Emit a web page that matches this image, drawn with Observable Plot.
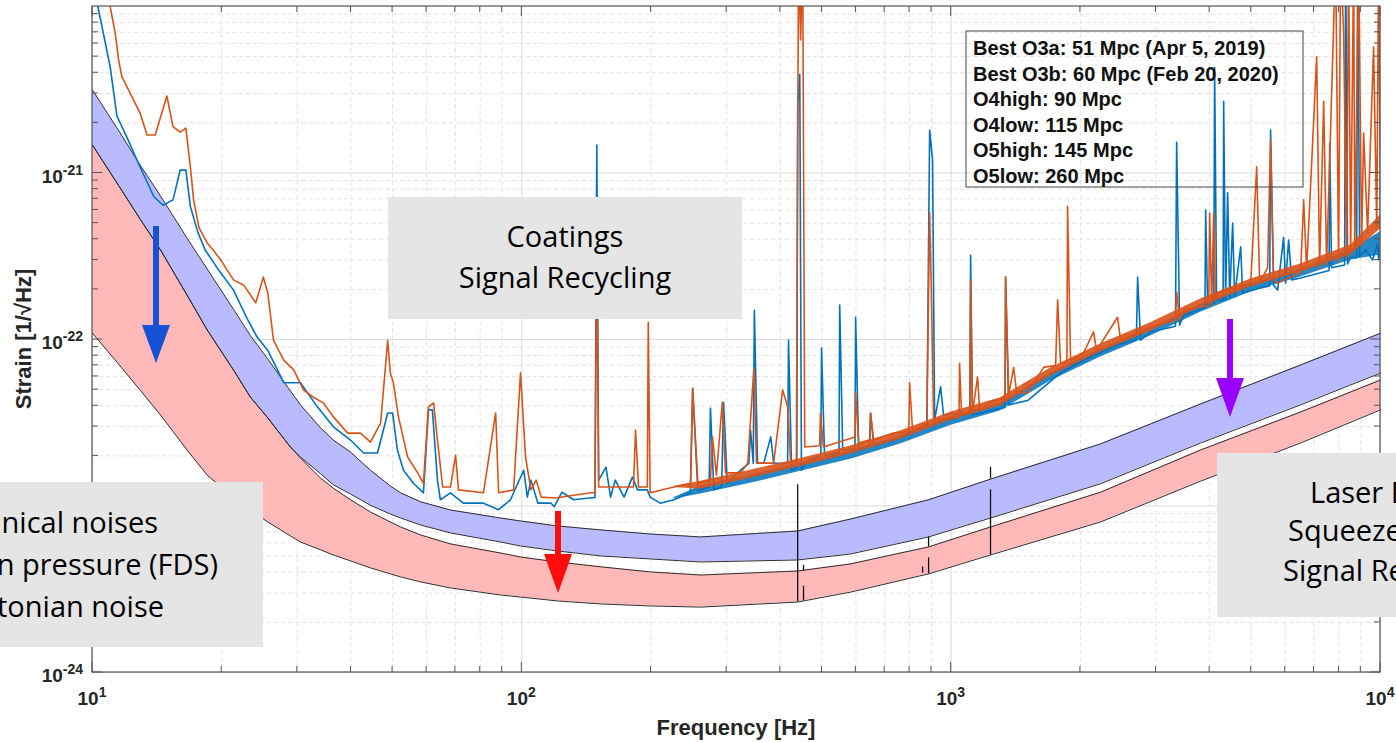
<!DOCTYPE html>
<html><head><meta charset="utf-8">
<script src="https://cdn.jsdelivr.net/npm/d3@7"></script>
<script src="https://cdn.jsdelivr.net/npm/@observablehq/plot@0.6"></script>
<style>
html,body{margin:0;padding:0;background:#fff;overflow:hidden}
#chart svg{display:block}
</style></head><body><div id="chart"></div>
<script>
// ---------- DATA ----------
// design bands (frequency in Hz, strain in 1/sqrt(Hz))
const bandFreq = [10, 11.6, 12.9, 14.4, 16.6, 18.5, 21.3, 23.3, 25.6, 28.9, 30.5, 34.0, 36.4, 39.9, 44.4, 49.4, 52.2, 58.1, 68.2, 89.2, 99.3, 121, 153, 199, 261, 439, 583, 886, 1235, 2228, 3811, 6516, 10000];
const o4High = [3.15e-21, 1.74e-21, 1.12e-21, 7.28e-22, 4.07e-22, 2.65e-22, 1.52e-22, 1.06e-22, 7.64e-23, 4.91e-23, 4.05e-23, 2.94e-23, 2.49e-23, 2.11e-23, 1.64e-23, 1.32e-23, 1.20e-23, 1.06e-23, 9.46e-24, 8.47e-24, 8.13e-24, 7.59e-24, 7.18e-24, 6.79e-24, 6.52e-24, 7.08e-24, 8.35e-24, 1.09e-23, 1.45e-23, 2.36e-23, 4.10e-23, 7.03e-23, 1.09e-22];
const o4Low = [1.47e-21, 8.13e-22, 5.30e-22, 3.45e-22, 1.85e-22, 1.14e-22, 6.56e-23, 4.52e-23, 3.38e-23, 2.26e-23, 1.97e-23, 1.56e-23, 1.34e-23, 1.18e-23, 1.01e-23, 8.95e-24, 8.47e-24, 7.69e-24, 6.89e-24, 6.08e-24, 5.75e-24, 5.37e-24, 5.01e-24, 4.81e-24, 4.61e-24, 4.74e-24, 5.15e-24, 6.52e-24, 8.47e-24, 1.36e-23, 2.39e-23, 4.05e-23, 6.29e-23];
const o5High = [1.47e-21, 8.13e-22, 5.30e-22, 3.45e-22, 1.85e-22, 1.14e-22, 6.56e-23, 4.52e-23, 3.38e-23, 2.26e-23, 1.94e-23, 1.47e-23, 1.28e-23, 1.09e-23, 9.20e-24, 8.02e-24, 7.48e-24, 6.70e-24, 5.92e-24, 5.22e-24, 4.94e-24, 4.61e-24, 4.31e-24, 4.02e-24, 3.85e-24, 4.07e-24, 4.49e-24, 5.68e-24, 7.48e-24, 1.21e-23, 2.17e-23, 3.67e-23, 5.71e-23];
const o5Low = [1.09e-22, 6.93e-23, 4.98e-23, 3.52e-23, 2.17e-23, 1.53e-23, 1.13e-23, 9.46e-24, 8.02e-24, 6.61e-24, 6.08e-24, 5.45e-24, 5.08e-24, 4.68e-24, 4.25e-24, 3.91e-24, 3.75e-24, 3.50e-24, 3.22e-24, 2.92e-24, 2.84e-24, 2.69e-24, 2.58e-24, 2.51e-24, 2.47e-24, 2.65e-24, 3.04e-24, 3.91e-24, 5.08e-24, 8.02e-24, 1.41e-23, 2.39e-23, 3.78e-23];
// narrow lines on the design curves: [freq, low, high]
const designSpikes = [[439, 2.65e-24, 1.34e-23], [453, 2.69e-24, 3.3e-24], [453, 4.07e-24, 4.4e-24], [858, 3.95e-24, 4.3e-24], [886, 3.91e-24, 4.88e-24], [886, 5.68e-24, 6.52e-24], [1235, 5.08e-24, 1.25e-23], [1235, 1.45e-23, 1.71e-23]];

// measured spectra [freq, strain]
const seriesBlue = [[10.1,2e-20],[10.3,9.9e-21],[10.6,6.9e-21],[11.0,4.3e-21],[11.4,2.2e-21],[12.1,1.58e-21],[12.9,1.09e-21],[13.9,7.2e-22],[14.6,6.4e-22],[15.4,6.9e-22],[16.0,1.04e-21],[16.5,1.04e-21],[16.9,6.3e-22],[17.6,4.4e-22],[18.3,3.45e-22],[19.5,2.7e-22],[21.3,1.98e-22],[23.0,1.31e-22],[24.2,1.03e-22],[25.6,8.6e-23],[27.9,5.5e-23],[30.5,5.5e-23],[33.4,3.94e-23],[36.4,2.99e-23],[39.9,2.49e-23],[42.8,2.08e-23],[46.1,2.08e-23],[47.6,2.86e-23],[48.7,3.62e-23],[50.0,3.62e-23],[51.3,2.17e-23],[53.0,1.64e-23],[55.9,1.37e-23],[59.0,1.20e-23],[60.6,3.78e-23],[61.9,3.78e-23],[63.6,1.43e-23],[64.6,1.09e-23],[68.2,1.20e-23],[73.1,1.04e-23],[81.4,1.04e-23],[88.3,9.5e-24],[94.1,1.09e-23],[101,1.64e-23],[103,1.13e-23],[105,1.43e-23],[109,1.04e-23],[117,1.04e-23],[119,9.9e-24],[124,1.21e-23],[132,1.09e-23],[145,1.12e-23],[148,1.12e-23],[149.5,1.47e-21],[151,1.43e-23],[157,1.71e-23],[161,1.13e-23],[165,1.43e-23],[173,1.13e-23],[181,1.49e-23],[186,1.25e-23],[196,1.25e-23],[199,1.13e-23],[210,1.04e-23],[226,1.09e-23],[247,1.2e-23],[250,5.1e-23],[257,1.25e-23],[273,1.3e-23],[275,3.88e-23],[280,1.25e-23],[292,1.3e-23],[295,4.2e-23],[301,1.37e-23],[323,1.64e-23],[338,1.8e-23],[341,2.86e-23],[346,1.8e-23],[348,1.5e-22],[354,1.81e-23],[366,1.81e-23],[380,2.6e-23],[386,1.81e-23],[416,1.8e-23],[418,9.9e-23],[425,1.64e-23],[437,1.7e-23],[439,2.49e-21],[444,3.9e-21],[448,1.64e-23],[463,1.89e-23],[497,2.0e-23],[499,8.9e-23],[507,2.02e-23],[548,2.1e-23],[550,1.61e-22],[559,2.17e-23],[597,2.2e-23],[599,1.36e-22],[609,2.17e-23],[645,2.3e-23],[649,3.62e-23],[660,2.32e-23],[734,2.49e-23],[878,3.1e-23],[891,1.81e-21],[905,1.20e-21],[915,3.29e-23],[945,5.2e-23],[960,3.52e-23],[1052,3.6e-23],[1105,3.6e-23],[1110,3.2e-22],[1121,3.52e-23],[1255,3.78e-23],[1335,3.9e-23],[1339,2.37e-22],[1361,4.05e-23],[1507,4.3e-23],[1798,6.3e-23],[2034,7.5e-23],[2441,9.3e-23],[2700,1.0e-22],[2718,2.37e-22],[2762,9.9e-23],[2914,1.11e-22],[3330,1.2e-22],[3351,1.53e-21],[3405,1.22e-22],[3478,1.40e-22],[3900,1.55e-22],[3915,6.0e-22],[3957,1.61e-22],[4090,1.65e-22],[4108,4.3e-21],[4152,1.73e-22],[4300,1.72e-22],[4312,2.7e-21],[4357,1.73e-22],[4405,7.6e-22],[4454,1.77e-22],[4525,5.0e-22],[4573,1.82e-22],[4724,3.6e-22],[4773,1.90e-22],[5256,2.04e-22],[5520,2.1e-22],[5546,1.81e-21],[5636,2.12e-22],[5758,1.98e-22],[5947,4.1e-22],[6012,2.18e-22],[6109,3.96e-22],[6209,2.28e-22],[6516,2.34e-22],[7590,2.6e-22],[7614,1.51e-21],[7692,2.7e-22],[8250,2.8e-22],[8296,2e-20],[8382,2.84e-22],[8520,3.12e-22],[8800,3.1e-22],[8845,2e-20],[8943,3.18e-22],[9234,3.45e-22],[9585,3.0e-22],[9854,3.8e-22],[9899,3.0e-22],[10000,3.6e-22]];
const seriesOrange = [[10.6,2e-20],[11.0,9.9e-21],[11.3,6.9e-21],[11.5,4.8e-21],[11.7,3.8e-21],[12.1,3.2e-21],[12.9,2.3e-21],[13.4,1.69e-21],[14.0,1.69e-21],[14.9,2.9e-21],[15.4,1.9e-21],[16.0,1.76e-21],[16.5,1.86e-21],[16.9,1.09e-21],[17.2,6.9e-22],[17.7,4.7e-22],[18.5,3.8e-22],[19.1,3.45e-22],[19.9,3.0e-22],[21.3,2.28e-22],[22.5,2.12e-22],[24.0,1.66e-22],[25.0,2.37e-22],[25.6,1.90e-22],[26.4,9.9e-23],[27.9,7.5e-23],[29.4,6.6e-23],[31.0,4.98e-23],[32.7,4.5e-23],[34.5,4.16e-23],[36.4,3.43e-23],[39.3,2.74e-23],[42.1,2.74e-23],[44.4,2.42e-23],[46.9,3.16e-23],[48.7,9.9e-23],[49.4,6.3e-23],[50.2,5.5e-23],[51.6,3.43e-23],[54.2,1.97e-23],[57.2,1.58e-23],[59.0,1.37e-23],[60.6,3.94e-23],[62.3,4.16e-23],[63.6,2.49e-23],[65.4,1.30e-23],[68.2,1.30e-23],[70.1,2.02e-23],[71.2,1.25e-23],[81.4,1.20e-23],[86.9,3.62e-23],[88.3,1.20e-23],[95.7,1.25e-23],[99.3,6.3e-23],[102,1.97e-23],[105,1.25e-23],[108,1.43e-23],[111,1.13e-23],[117,1.12e-23],[121,1.12e-23],[132,1.16e-23],[145,1.20e-23],[148,1.2e-23],[149.5,3.45e-22],[151,1.30e-23],[158,1.30e-23],[173,1.30e-23],[182,1.3e-23],[184,2.86e-23],[187,1.30e-23],[196,1.30e-23],[197,1.27e-22],[199,1.20e-23],[226,1.30e-23],[247,1.37e-23],[250,5.1e-23],[257,1.37e-23],[275,1.43e-23],[278,2.6e-23],[284,1.53e-23],[293,4.2e-23],[298,1.58e-23],[323,1.58e-23],[336,1.81e-23],[347,6.7e-23],[352,1.81e-23],[386,1.81e-23],[405,4.98e-23],[416,3.94e-23],[423,1.81e-23],[436,1.89e-23],[441,2e-20],[446,6.3e-21],[451,2e-20],[456,2.26e-23],[494,2.3e-23],[496,3.62e-23],[504,2.26e-23],[597,2.6e-23],[599,4.8e-23],[609,2.39e-23],[647,2.5e-23],[649,3.62e-23],[660,2.49e-23],[734,2.74e-23],[797,2.8e-23],[800,5.5e-23],[813,2.86e-23],[849,2.99e-23],[878,3.1e-23],[881,6.8e-23],[891,5.75e-22],[900,1.73e-22],[910,3.29e-23],[1043,3.4e-23],[1046,7.2e-23],[1057,3.62e-23],[1106,3.6e-23],[1110,2.28e-22],[1121,3.62e-23],[1152,5.96e-23],[1165,3.78e-23],[1255,4.3e-23],[1335,4.4e-23],[1339,2.37e-22],[1361,4.65e-23],[1398,6.8e-23],[1421,4.8e-23],[1507,4.8e-23],[1642,6.8e-23],[1751,7.0e-23],[1770,1.73e-22],[1798,7.2e-23],[1860,7.3e-23],[1867,6.3e-22],[1897,7.5e-23],[2034,8.3e-23],[2146,1.11e-22],[2182,8.6e-23],[2441,1.36e-22],[2481,9.9e-23],[2914,1.19e-22],[3330,1.3e-22],[3351,1.93e-22],[3405,1.31e-22],[3478,1.50e-22],[3980,1.6e-22],[4000,5.75e-22],[4043,1.61e-22],[4087,5.75e-22],[4129,1.73e-22],[4175,1.90e-22],[4985,2.18e-22],[5148,1.09e-21],[5230,2.18e-22],[5458,2.7e-22],[5546,1.58e-21],[5636,2.28e-22],[5758,2.18e-22],[6516,2.54e-22],[6622,6.9e-22],[6729,2.62e-22],[7101,5.0e-21],[7213,2.7e-22],[7373,2.7e-21],[7490,2.8e-22],[7862,2e-20],[7986,2.92e-22],[8075,2e-20],[8207,6.9e-21],[8340,3.08e-22],[8429,2e-20],[8520,3.3e-22],[8659,2e-20],[8710,3.45e-22],[8894,2e-20],[9036,3.7e-22],[9135,1.74e-21],[9333,4.4e-22],[9636,5.7e-21],[9802,4.68e-22],[9899,2e-20],[10000,5.2e-22]];
// noise envelope of the measured traces above ~230 Hz: [freq, top, bottom]
const blueNoise = [[226,1.12e-23,1.10e-23],[261,1.32e-23,1.18e-23],[341,1.53e-23,1.37e-23],[439,1.79e-23,1.60e-23],[583,2.14e-23,1.91e-23],[762,2.63e-23,2.36e-23],[1000,3.43e-23,3.06e-23],[1300,4.16e-23,3.72e-23],[1704,6.29e-23,5.64e-23],[2228,8.77e-23,7.85e-23],[2914,1.17e-22,1.05e-22],[3811,1.63e-22,1.46e-22],[4985,2.15e-22,1.93e-22],[6516,2.65e-22,2.37e-22],[8520,3.45e-22,3.00e-22],[10000,4.43e-22,3.22e-22]];
const orangeNoise = [[226,1.31e-23,1.29e-23],[261,1.41e-23,1.26e-23],[341,1.64e-23,1.47e-23],[439,1.91e-23,1.71e-23],[583,2.29e-23,2.05e-23],[762,2.82e-23,2.52e-23],[1000,3.67e-23,3.29e-23],[1300,4.46e-23,3.99e-23],[1704,6.75e-23,6.04e-23],[2228,9.40e-23,8.41e-23],[2914,1.26e-22,1.12e-22],[3811,1.75e-22,1.57e-22],[4985,2.31e-22,2.07e-22],[6516,2.84e-22,2.54e-22],[8520,3.70e-22,3.22e-22],[10000,5.60e-22,4.61e-22]];

// axes
const xTickValues = [10, 100, 1000, 10000];
const xTickExponents = ["1", "2", "3", "4"];
const yTickValues = [1e-24, 1e-23, 1e-22, 1e-21];
const yTickExponents = ["-24", "-23", "-22", "-21"];
const yTickLabelShown = [true, false, true, true]; // 10^-23 is hidden behind the left annotation box
const xDomain = [10, 10000];
const yDomain = [1e-24, 1e-20];
const xLabel = "Frequency [Hz]";
const yLabel = "Strain [1/\u221AHz]";

// texts
const legendLines = ["Best O3a: 51 Mpc (Apr 5, 2019)", "Best O3b: 60 Mpc (Feb 20, 2020)", "O4high: 90 Mpc", "O4low: 115 Mpc", "O5high: 145 Mpc", "O5low: 260 Mpc"];
const boxLeftLines = ["Mechanical noises", "Radiation pressure (FDS)", "Newtonian noise"];
const boxMidLines = ["Coatings", "Signal Recycling"];
const boxRightLines = ["Laser Power", "Squeezed light", "Signal Recycling"];

// ---------- CHART ----------
const W = 1396, H = 742;
const bandRows = bandFreq.map((f, i) => ({f, A: o4High[i], B: o4Low[i], C: o5High[i], D: o5Low[i]}));
const spikeRows = designSpikes.map(([f, lo, hi]) => ({f, lo, hi}));
const minorOf = (decades) => decades.flatMap(d => [2,3,4,5,6,7,8,9].map(k => k * d));
const xMinor = minorOf(xTickValues.slice(0, -1));
const yMinor = minorOf(yTickValues);
const BLUE = "#0072bd", ORANGE = "#d95319";

const outline = {stroke: "#2e2e2e", strokeWidth: 1};
const chart = Plot.plot({
  width: W, height: H,
  marginLeft: 92, marginRight: 16, marginTop: 6, marginBottom: 70,
  x: {type: "log", domain: xDomain, axis: null},
  y: {type: "log", domain: yDomain, axis: null},
  style: {background: "white"},
  marks: [
    Plot.ruleX(xMinor, {stroke: "#e2e2e2", strokeDasharray: "4,3"}),
    Plot.ruleY(yMinor, {stroke: "#e2e2e2", strokeDasharray: "4,3"}),
    Plot.ruleX(xTickValues, {stroke: "#dadada"}),
    Plot.ruleY(yTickValues, {stroke: "#dadada"}),
    Plot.areaY(bandRows, {x: "f", y1: "D", y2: "C", fill: "#ffb9b9"}),
    Plot.areaY(bandRows, {x: "f", y1: "B", y2: "A", fill: "#babaff"}),
    Plot.line(bandRows, {x: "f", y: "A", ...outline}),
    Plot.line(bandRows, {x: "f", y: "B", ...outline}),
    Plot.line(bandRows, {x: "f", y: "C", ...outline}),
    Plot.line(bandRows, {x: "f", y: "D", ...outline}),
    Plot.ruleX(spikeRows, {x: "f", y1: "lo", y2: "hi", stroke: "#111", strokeWidth: 1.3}),
    Plot.areaY(blueNoise, {x: d => d[0], y1: d => d[2], y2: d => d[1], fill: BLUE, fillOpacity: 0.85}),
    Plot.line(seriesBlue, {x: d => d[0], y: d => d[1], stroke: BLUE, strokeWidth: 1.6, clip: true}),
    Plot.areaY(orangeNoise, {x: d => d[0], y1: d => d[2], y2: d => d[1], fill: ORANGE, fillOpacity: 0.9}),
    Plot.line(seriesOrange, {x: d => d[0], y: d => d[1], stroke: ORANGE, strokeWidth: 1.6, clip: true})
  ]
});
document.getElementById("chart").appendChild(chart);

// ---------- OVERLAY (axes frame, ticks, labels, annotations) ----------
const sx = chart.scale("x"), sy = chart.scale("y");
const X = v => sx.apply(v), Y = v => sy.apply(v);
const svg = d3.select(chart);
const x0 = X(xDomain[0]), x1 = X(xDomain[1]), y0 = Y(yDomain[1]), y1 = Y(yDomain[0]);
const axisColor = "#555";
const g = svg.append("g").attr("text-anchor", "start");

// ticks (inward, on all four sides)
const tk = g.append("g").attr("stroke", axisColor).attr("stroke-width", 1);
[[xTickValues, 10], [xMinor, 6]].forEach(([vals, len]) => vals.forEach(v => {
  tk.append("line").attr("x1", X(v)).attr("x2", X(v)).attr("y1", y1).attr("y2", y1 - len);
  tk.append("line").attr("x1", X(v)).attr("x2", X(v)).attr("y1", y0).attr("y2", y0 + len);
}));
[[yTickValues, 10], [yMinor, 6]].forEach(([vals, len]) => vals.forEach(v => {
  tk.append("line").attr("y1", Y(v)).attr("y2", Y(v)).attr("x1", x0).attr("x2", x0 + len);
  tk.append("line").attr("y1", Y(v)).attr("y2", Y(v)).attr("x1", x1).attr("x2", x1 - len);
}));
g.append("rect").attr("x", x0).attr("y", y0).attr("width", x1 - x0).attr("height", y1 - y0)
  .attr("fill", "none").attr("stroke", axisColor).attr("stroke-width", 1.2);

const font = "'Liberation Sans', Arial, sans-serif";
const lab = g.append("g").attr("font-family", font).attr("font-weight", "bold").attr("fill", "#262626");
xTickValues.forEach((v, i) => {
  const t = lab.append("text").attr("x", X(v)).attr("y", y1 + 33).attr("text-anchor", "middle").attr("font-size", 19);
  t.append("tspan").text("10");
  t.append("tspan").attr("dy", -8).attr("font-size", 14).text(xTickExponents[i]);
});
yTickValues.forEach((v, i) => {
  if (!yTickLabelShown[i]) return;
  const t = lab.append("text").attr("x", x0 - 9).attr("y", Y(v) + 10).attr("text-anchor", "end").attr("font-size", 19);
  t.append("tspan").text("10");
  t.append("tspan").attr("dy", -8).attr("font-size", 14).text(yTickExponents[i]);
});
lab.append("text").attr("x", (x0 + x1) / 2).attr("y", 735).attr("text-anchor", "middle").attr("font-size", 22).text(xLabel);
lab.append("text").attr("transform", `translate(31,${(y0 + y1) / 2}) rotate(-90)`).attr("text-anchor", "middle").attr("font-size", 22).text(yLabel);

// legend text box (transparent)
const lg = g.append("g");
lg.append("rect").attr("x", 966).attr("y", 31).attr("width", 337).attr("height", 156).attr("fill", "none").attr("stroke", "#444").attr("stroke-width", 1);
legendLines.forEach((s, i) => lg.append("text").attr("x", 973).attr("y", 55 + i * 25.6).attr("text-anchor", "start")
  .attr("font-family", font).attr("font-weight", "bold").attr("font-size", 20).attr("fill", "#111").text(s));

// grey annotation boxes
const boxFont = "'Open Sans', Lato, sans-serif";
function box(x, y, w, h, lines, anchor, xs, ys) {
  const b = g.append("g");
  b.append("rect").attr("x", x).attr("y", y).attr("width", w).attr("height", h).attr("fill", "#e5e5e5");
  lines.forEach((s, i) => b.append("text").attr("x", xs[i]).attr("y", ys[i]).attr("text-anchor", anchor)
    .attr("font-family", boxFont).attr("font-size", 29).attr("fill", "#000").text(s));
}
box(-10, 482, 273, 165, boxLeftLines, "end", [158, 218, 164], [533, 575, 617]);
box(388, 197, 354, 122, boxMidLines, "middle", [565, 565], [247, 288]);
box(1217, 453, 200, 164, boxRightLines, "start", [1310, 1288, 1283], [503, 541, 581]);

// arrows
function arrow(cx, top, headTop, tip, color) {
  const a = g.append("g").attr("fill", color);
  a.append("rect").attr("x", cx - 3).attr("y", top).attr("width", 6).attr("height", headTop - top + 2);
  a.append("path").attr("d", `M${cx - 14},${headTop}L${cx + 14},${headTop}L${cx},${tip}Z`);
}
arrow(156, 226, 325, 363, "#1652d6");
arrow(558, 511, 554, 593, "#ff0d0d");
arrow(1230, 319, 378, 417, "#9900ff");
</script>
</body></html>
